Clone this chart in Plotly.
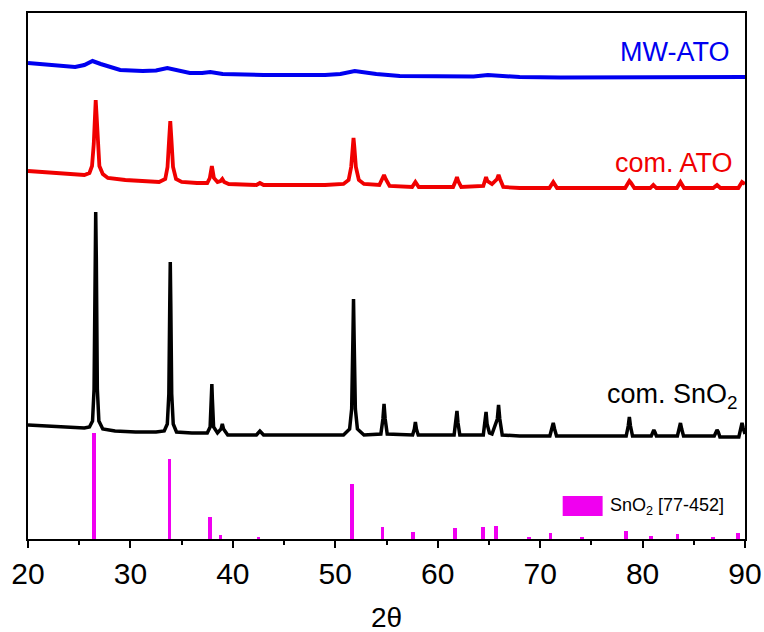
import plotly.graph_objects as go

# ---- XRD patterns (2-theta in degrees, stacked intensity in a.u.) ----
mw_ato_2theta = [20.0, 22.6, 24.6, 25.5, 26.3, 27.1, 28.0, 29.0, 31.2, 32.5, 33.6, 34.8,
                 35.8, 37.0, 37.8, 39.0, 41.0, 43.0, 49.0, 50.5, 51.9, 53.0, 54.0, 56.3,
                 61.2, 63.5, 64.9, 66.5, 68.0, 72.0, 76.0, 80.0, 85.0, 90.0]
mw_ato_int = [476, 474, 472, 474, 478, 475, 472, 469, 468, 468.5, 471, 468,
              466, 466, 467, 465, 464, 464, 464, 465, 468, 466, 465, 463,
              462, 462.5, 464, 463, 462, 461.5, 461.5, 462, 462, 462]

com_ato_2theta = [20.0, 21.5, 23.1, 24.5, 25.5, 26.0, 26.25, 26.42, 26.53, 26.61, 26.69, 26.8,
                  26.97, 27.3, 27.8, 29.5, 31.5, 32.8, 33.4, 33.62, 33.78, 33.89, 34.0, 34.16,
                  34.45, 35.0, 36.5, 37.5, 37.75, 37.88, 37.95, 38.02, 38.15, 38.5, 38.8, 38.97,
                  39.15, 39.6, 41.0, 42.3, 42.64, 43.0, 46.0, 49.0, 50.8, 51.3, 51.55, 51.7,
                  51.78, 51.86, 52.01, 52.3, 52.8, 54.3, 54.6, 54.76, 54.92, 55.3, 57.5, 57.82,
                  58.15, 61.5, 61.75, 61.88, 62.0, 62.3, 64.45, 64.6, 64.72, 64.85, 65.3, 65.8,
                  65.94, 66.08, 66.4, 68.0, 70.9, 71.28, 71.65, 78.3, 78.55, 78.71, 78.87, 79.2,
                  80.75, 81.05, 81.35, 83.35, 83.7, 84.05, 86.9, 87.27, 87.6, 89.35, 89.71, 90.0]
com_ato_int = [368, 367, 366, 365, 364, 366, 373, 395, 425, 439, 425, 395,
               373, 365, 361, 359, 358, 357, 360, 372, 400, 418, 400, 372,
               360, 357, 356, 356, 361, 369, 373, 369, 361, 357, 358, 360,
               357, 355, 354, 354, 356, 354, 354, 354, 355, 359, 372, 392,
               401, 392, 372, 359, 355, 354, 360, 364, 360, 353, 352, 357,
               352, 352, 358, 362, 358, 352, 353, 358, 362, 358, 355, 360,
               364, 360, 352, 351, 351, 357, 351, 351, 356, 358, 356, 351,
               351, 354, 351, 351, 357, 351, 351, 354, 351, 351, 357, 355]

com_sno2_2theta = [20.0, 22.0, 24.0, 25.5, 26.0, 26.3, 26.45, 26.55, 26.61, 26.67, 26.77, 26.92,
                   27.3, 28.5, 30.5, 32.5, 33.3, 33.6, 33.75, 33.84, 33.89, 33.94, 34.03, 34.18,
                   34.5, 36.0, 37.5, 37.78, 37.9, 37.95, 38.0, 38.12, 38.5, 38.85, 38.97, 39.09,
                   39.5, 42.3, 42.64, 43.0, 47.0, 50.8, 51.4, 51.6, 51.72, 51.78, 51.84, 51.96,
                   52.16, 52.8, 54.45, 54.65, 54.76, 54.87, 55.07, 57.55, 57.72, 57.82, 57.92, 58.1,
                   61.6, 61.78, 61.88, 61.98, 62.16, 64.45, 64.62, 64.72, 64.82, 65.05, 65.3, 65.82,
                   65.94, 66.06, 66.3, 68.0, 70.95, 71.15, 71.28, 71.41, 71.6, 75.0, 78.4, 78.6,
                   78.71, 78.82, 79.02, 80.85, 81.0, 81.1, 81.2, 81.35, 83.4, 83.58, 83.7, 83.82,
                   84.0, 87.0, 87.15, 87.27, 87.39, 87.55, 89.4, 89.6, 89.71, 89.82, 90.0]
com_sno2_int = [114, 113, 112, 111, 112, 118, 150, 280, 327, 280, 150, 118,
                110, 108, 107, 107, 108, 115, 145, 235, 277, 235, 145, 115,
                107, 106, 106, 112, 140, 155, 140, 112, 106, 110, 115, 110,
                104, 104, 108, 104, 104, 104, 110, 130, 200, 240, 200, 130,
                110, 104, 105, 120, 135, 120, 105, 104, 110, 117, 110, 104,
                104, 116, 128, 116, 104, 104, 115, 127, 115, 106, 105, 120,
                134, 120, 104, 103, 103, 110, 116, 110, 103, 103, 103, 113,
                122, 113, 103, 103, 107, 109, 107, 103, 103, 110, 116, 110,
                103, 103, 107, 109, 107, 102, 102, 111, 116, 111, 105]

# ---- Reference pattern SnO2 [77-452] (stick positions and relative heights) ----
ref_2theta = [26.45, 33.8, 37.8, 38.8, 42.5, 51.6, 54.6, 57.6, 61.7, 64.4,
              65.7, 68.9, 71.0, 74.1, 78.4, 80.8, 83.4, 86.9, 89.3]
ref_int = [106, 80, 22, 4, 2, 55, 12, 7, 11, 12,
           13, 2, 6, 1.5, 8, 3, 5, 2, 6]

x_ticks = [20, 30, 40, 50, 60, 70, 80, 90]

FONT = "Arial, Liberation Sans, sans-serif"
BLUE = "#0000F0"
RED = "#F00000"
MAGENTA = "#F000F0"

fig = go.Figure()

fig.add_trace(go.Bar(x=ref_2theta, y=ref_int, width=0.36, marker=dict(color=MAGENTA, line=dict(width=0)),
                     showlegend=False))
fig.add_trace(go.Scatter(x=com_sno2_2theta, y=com_sno2_int, mode="lines",
                         line=dict(color="black", width=3.5), showlegend=False))
fig.add_trace(go.Scatter(x=com_ato_2theta, y=com_ato_int, mode="lines",
                         line=dict(color=RED, width=3.8), showlegend=False))
fig.add_trace(go.Scatter(x=mw_ato_2theta, y=mw_ato_int, mode="lines",
                         line=dict(color=BLUE, width=4), showlegend=False))

# series labels
fig.add_annotation(x=88.75, y=487, text="MW-ATO", showarrow=False, xanchor="right", yanchor="middle",
                   font=dict(family=FONT, size=27, color=BLUE))
fig.add_annotation(x=89.05, y=376, text="com. ATO", showarrow=False, xanchor="right", yanchor="middle",
                   font=dict(family=FONT, size=27, color=RED))
fig.add_annotation(x=89.5, y=143, text="com. SnO<sub>2</sub>", showarrow=False, xanchor="right",
                   yanchor="middle", font=dict(family=FONT, size=27, color="black"))

# legend key for the reference sticks
fig.add_shape(type="rect", xref="x", yref="y", x0=72.2, x1=76.1, y0=23, y1=43,
              fillcolor=MAGENTA, line=dict(width=0))
fig.add_annotation(x=76.6, y=33, text="SnO<sub>2</sub> [77-452]", showarrow=False, xanchor="left",
                   yanchor="middle", font=dict(family=FONT, size=18, color="black"))

# x-axis title
fig.add_annotation(x=0.5, y=-0.15, xref="paper", yref="paper", text="2θ", showarrow=False,
                   xanchor="center", yanchor="middle", font=dict(family=FONT, size=28, color="black"))

fig.update_layout(
    width=764, height=632,
    margin=dict(l=28, r=19, t=13, b=93, autoexpand=False),
    paper_bgcolor="white", plot_bgcolor="white",
    bargap=0,
    font=dict(family=FONT, color="black"),
)
fig.update_xaxes(
    automargin=False,
    range=[20, 90], tickvals=x_ticks, ticktext=[str(v) for v in x_ticks],
    ticks="outside", ticklen=7, tickwidth=2, tickcolor="black",
    minor=dict(dtick=5, tick0=20, ticks="outside", ticklen=4, tickwidth=2, tickcolor="black"),
    showline=True, linewidth=2, linecolor="black", mirror=True,
    showgrid=False, zeroline=False,
    tickfont=dict(family=FONT, size=30, color="black"),
)
fig.update_yaxes(
    automargin=False,
    range=[0, 526], showticklabels=False, ticks="",
    showline=True, linewidth=2, linecolor="black", mirror=True,
    showgrid=False, zeroline=False,
)

fig.write_html("out.html")
